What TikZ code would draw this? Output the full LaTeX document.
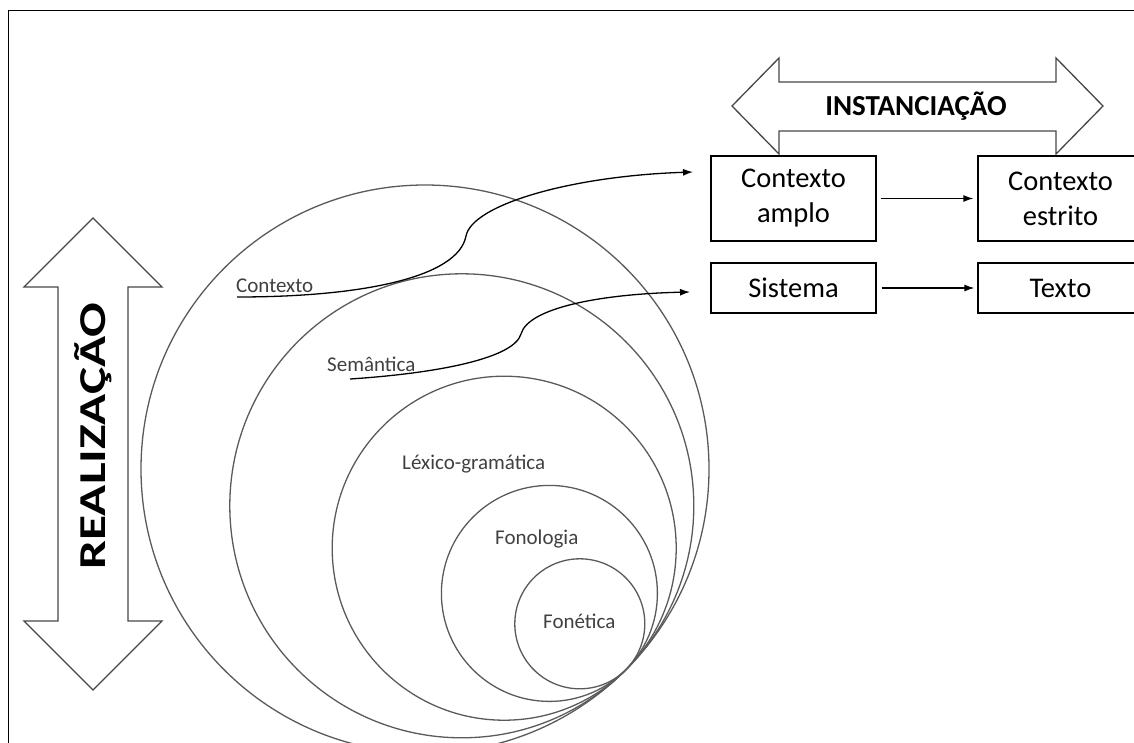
\documentclass[tikz,border=0pt]{standalone}
\usepackage{fontspec}
\setmainfont{Carlito}
\usetikzlibrary{arrows.meta}
\definecolor{ringgray}{RGB}{90,90,90}
\definecolor{labelgray}{RGB}{64,64,64}
\definecolor{outlinegray}{RGB}{70,70,70}
\begin{document}
\begin{tikzpicture}[x=1pt,y=-1pt,
  ring/.style={draw=ringgray, line width=1.3pt},
  ringlabel/.style={anchor=base west, inner sep=0pt, text=labelgray,
    font=\fontsize{21}{24}\selectfont},
  bigarrow/.style={draw=outlinegray, line width=1.3pt, line join=miter},
  stagebox/.style={draw=black, line width=1.2pt, minimum width=165pt,
    inner sep=0pt, align=center, font=\fontsize{28.5}{35}\selectfont},
  flow/.style={line width=1.3pt, -{Latex[length=10pt,width=7pt]}},
  link/.style={line width=1.3pt, -{Latex[length=10pt,width=7pt]}}]
\useasboundingbox (0,0) rectangle (1134,742);
\clip (0,0) rectangle (1134,742);

% outer frame
\draw[line width=1pt] (8,760) -- (8,10) -- (1150,10);

% realization arrow (vertical, two heads)
\draw[bigarrow] (93,218) -- (162,287) -- (128,287) -- (128,621) -- (162,621)
  -- (93,690) -- (24,621) -- (58,621) -- (58,287) -- (24,287) -- cycle;
\node[rotate=90, xscale=1.35, inner sep=0pt,
  font=\bfseries\fontsize{38}{40}\selectfont]
  (realiz) at (93,436) {REALIZAÇÃO};

% instantiation arrow (horizontal, two heads)
\draw[bigarrow] (732,106) -- (779,58) -- (779,82) -- (1056,82) -- (1056,58)
  -- (1103,106) -- (1056,154) -- (1056,131) -- (779,131) -- (779,154) -- cycle;
\node[inner sep=0pt, font=\bfseries\fontsize{29}{30}\selectfont]
  (instanc) at (916,106) {INSTANCIAÇÃO};

% strata: nested circles, all touching the outer one at the lower right
\draw[ring] (425,469) circle[radius=284pt];
\draw[ring] (461.8,505.8) circle[radius=232pt];
\draw[ring] (504.2,548.2) circle[radius=172pt];
\draw[ring] (549.4,593.4) circle[radius=108pt];
\draw[ring] (579.8,623.8) circle[radius=65pt];

\node[ringlabel] (lctx) at (236,292) {Contexto};
\node[ringlabel] (lsem) at (327,371) {Semântica};
\node[ringlabel] (llex) at (402,469) {Léxico-gramática};
\node[ringlabel] (lfonol) at (495,544) {Fonologia};
\node[ringlabel] (lfonet) at (543,628) {Fonética};

% instantiation boxes
\node[stagebox, minimum height=85pt] (amplo) at (793.5,198.5) {Contexto\\amplo};
\node[stagebox, minimum height=85pt] (estrito) at (1060.5,198.5) {Contexto\\estrito};
\node[stagebox, minimum height=50pt] (sistema) at (793.5,288) {Sistema};
\node[stagebox, minimum height=50pt] (texto) at (1060.5,288) {Texto};

\draw[flow, shorten <=4pt, shorten >=4pt] (amplo.east) -- (estrito.west);
\draw[flow, shorten <=5pt, shorten >=3pt] (sistema.east) -- (texto.west);

% links from strata to the instantiation columns
\coordinate (ctxstart) at (237,297);
\coordinate (ctxend) at (693,172);
\coordinate (semstart) at (350,379);
\coordinate (semend) at (690,292);
\draw[link] (ctxstart) .. controls (360,297) and (458,278) .. (466,236)
  .. controls (472,205) and (570,176) .. (ctxend);
\draw[link] (semstart) .. controls (440,373) and (514,358) .. (521,334)
  .. controls (528,308) and (600,294) .. (semend);
\end{tikzpicture}
\end{document}
